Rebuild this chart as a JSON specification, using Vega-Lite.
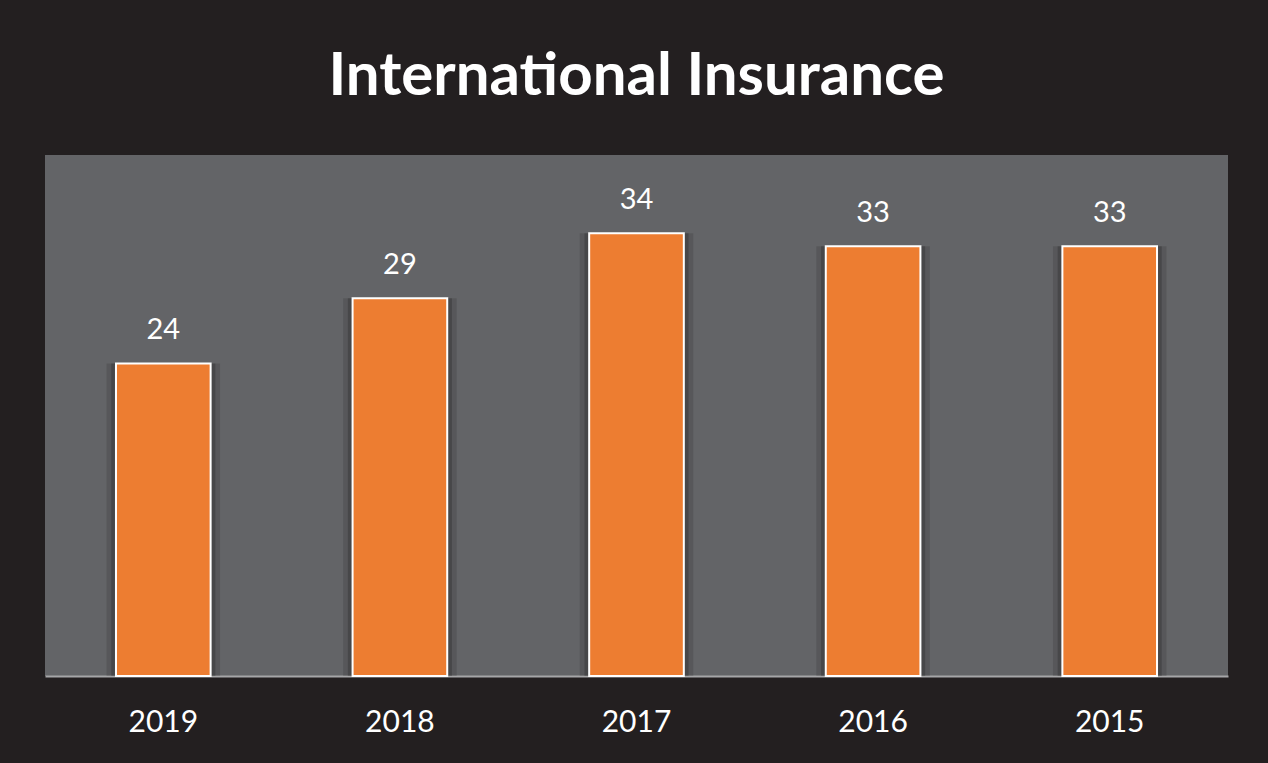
{
  "$schema": "https://vega.github.io/schema/vega-lite/v6.json",
  "width": 1183,
  "height": 521,
  "autosize": {"type": "none"},
  "padding": {"left": 45, "top": 155, "right": 40, "bottom": 87},
  "background": "#231f20",
  "config": {
    "view": {"fill": "#636467", "stroke": null},
    "font": "Lato"
  },
  "title": {
    "text": "International Insurance",
    "font": "Lato",
    "fontSize": 60,
    "fontWeight": "bold",
    "color": "#ffffff",
    "anchor": "middle",
    "baseline": "alphabetic",
    "offset": 0
  },
  "data": {
    "values": [
      {"year": "2019", "value": 24},
      {"year": "2018", "value": 29},
      {"year": "2017", "value": 34},
      {"year": "2016", "value": 33},
      {"year": "2015", "value": 33}
    ]
  },
  "encoding": {
    "x": {
      "field": "year",
      "type": "nominal",
      "sort": null,
      "scale": {"paddingInner": 0.6, "paddingOuter": 0.3},
      "axis": {
        "title": null,
        "labelAngle": 0,
        "ticks": false,
        "labelFont": "Lato",
        "labelFontSize": 30,
        "labelColor": "#ffffff",
        "labelBaseline": "alphabetic",
        "labelPadding": 55,
        "domainColor": "#a6a6a8",
        "domainWidth": 2
      }
    },
    "y": {
      "field": "value",
      "type": "quantitative",
      "scale": {"domain": [0, 40]},
      "axis": null
    }
  },
  "layer": [
    {
      "mark": {"type": "bar", "color": "#000000", "opacity": 0.12, "width": {"band": 1.2}}
    },
    {
      "mark": {"type": "bar", "color": "#000000", "opacity": 0.18, "width": {"band": 1.1}}
    },
    {
      "mark": {"type": "bar", "color": "#ed7d31", "stroke": "#ffffff", "strokeWidth": 2, "width": {"band": 1}}
    },
    {
      "mark": {"type": "text", "color": "#ffffff", "font": "Lato", "fontSize": 29, "baseline": "alphabetic", "dy": -24},
      "encoding": {"text": {"field": "value", "type": "quantitative"}}
    }
  ]
}
